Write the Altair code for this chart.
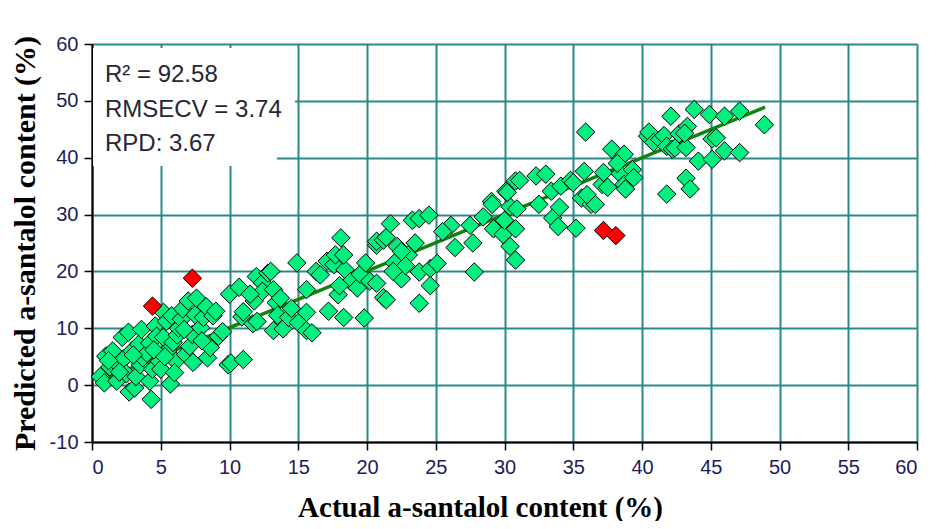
import altair as alt
import pandas as pd

# ---- data ----
green_x = [0.6, 0.9, 1.0, 1.3, 1.5, 1.8, 1.9, 2.2, 2.3, 2.5, 2.65, 2.7, 2.9, 3.1, 3.2, 3.4, 3.5, 3.6, 3.7, 4.0,
           4.2, 4.2, 4.3, 4.4, 4.6, 4.7, 4.9, 5.0, 5.2, 5.2, 5.4, 5.5, 5.7, 5.8, 5.9, 6.1, 6.2, 6.3, 6.5, 6.6,
           6.8, 7.0, 7.1, 7.3, 7.35, 7.5, 7.6, 7.9, 8.1, 8.3, 8.4, 8.6, 8.8, 9.0, 9.2, 9.5, 9.9, 6.0, 3.0, 2.0,
           1.2, 4.5, 5.3, 6.7, 8.0,
           10.0, 10.1, 10.7, 10.9, 11.0, 11.0, 11.7, 11.8, 11.95, 12.4, 12.4, 12.8, 13.0, 13.2, 13.2, 13.4, 13.5, 13.7, 13.9, 14.3,
           14.9, 15.0, 15.6, 15.6, 15.6, 16.3, 16.6, 17.1, 17.2, 17.6, 17.7, 17.9, 18.1, 18.3, 18.4, 18.3, 18.8, 19.3, 19.8, 19.5,
           18.0, 16.0, 14.5, 12.0, 11.5,
           20.2, 20.7, 20.7, 20.7, 21.2, 21.2, 21.4, 21.4, 21.7, 22.2, 22.5, 22.0, 23.0, 23.3, 23.5, 23.8, 23.8, 23.8, 24.5, 24.6,
           24.6, 25.1, 26.1, 25.5, 26.4, 27.5, 27.7, 27.8, 28.45, 29.05, 29.2, 29.9, 30.1, 30.4, 30.4, 30.8, 30.8, 30.8, 22.8, 19.9,
           21.9, 22.5,
           31.1, 30.2, 30.9, 29.1, 30.0, 32.3, 32.5, 33.0, 33.4, 33.5, 33.9, 34.0, 34.1, 34.8, 35.0, 35.2, 35.6, 35.8, 35.9, 36.3,
           36.6, 37.1, 37.2, 37.5, 37.8, 38.4, 38.7, 38.7, 38.8, 39.3, 39.4, 38.2, 36.0,
           40.4, 40.5, 40.85, 41.3, 41.6, 41.8, 41.8, 42.1, 42.2, 42.4, 42.7, 43.2, 43.2, 43.3, 43.5, 43.8, 43.1, 44.1, 44.9, 45.1,
           45.1, 46.0, 46.0, 47.1, 47.1, 48.9, 45.4]
green_y = [1.5, 0.4, 5.1, 3.2, 6.0, 0.7, 3.6, 8.4, 4.6, 2.0, 9.3, -1.2, 6.0, -0.5, 1.5, 7.2, 3.6, 9.8, 4.8, 5.6,
           0.7, 7.4, -2.5, 2.8, 10.4, 8.6, 4.2, 2.8, 12.8, 8.4, 11.2, 6.0, 0.2, 12.2, 7.5, 4.2, 8.8, 10.0, 11.6, 13.4,
           5.4, 14.8, 6.8, 8.9, 4.0, 12.4, 15.3, 10.1, 11.9, 13.8, 4.8, 6.6, 12.2, 13.0, 8.6, 9.4, 3.6, 2.2, 5.3, 2.3,
           4.3, 6.2, 5.0, 9.8, 7.8,
           16.0, 3.9, 17.2, 12.0, 4.5, 12.9, 10.8, 14.8, 19.1, 18.0, 16.5, 19.7, 20.0, 16.8, 9.6, 14.5, 12.3, 15.3, 9.9, 11.9,
           21.5, 11.0, 9.6, 12.8, 16.8, 20.0, 19.4, 21.8, 13.0, 21.2, 22.9, 15.9, 25.9, 11.9, 20.3, 22.9, 18.2, 17.1, 11.8, 19.5,
           17.5, 9.2, 13.5, 11.2, 16.0,
           18.3, 24.6, 25.3, 17.9, 25.5, 15.4, 26.0, 15.0, 28.4, 24.4, 18.7, 21.5, 22.9, 29.0, 25.0, 29.3, 19.9, 14.4, 29.9, 20.5,
           17.5, 21.4, 28.1, 27.0, 24.2, 28.1, 25.0, 19.9, 29.6, 32.3, 27.5, 26.5, 34.1, 31.4, 24.4, 35.9, 27.5, 22.0, 21.0, 21.5,
           20.0, 23.5,
           36.0, 33.9, 31.0, 31.8, 29.0, 36.8, 31.8, 37.1, 34.1, 29.4, 27.9, 31.3, 35.0, 36.0, 35.6, 27.6, 32.9, 37.6, 44.5, 31.8,
           31.8, 35.3, 37.4, 34.8, 41.5, 37.2, 40.6, 35.3, 34.5, 37.9, 36.5, 39.0, 33.5,
           43.8, 44.5, 42.7, 43.2, 43.9, 42.0, 33.6, 47.3, 41.5, 41.7, 44.2, 41.8, 36.4, 45.5, 34.5, 48.5, 44.3, 39.4, 47.6, 43.3,
           39.7, 47.3, 41.2, 48.2, 40.9, 45.8, 43.5]
red_x = [4.4, 7.3, 37.2, 38.1]
red_y = [13.9, 18.8, 27.2, 26.3]
fit_x = [0.85, 48.95]
fit_y = [1.0, 48.9]
x_ticks = list(range(0, 61, 5))
y_ticks = list(range(-10, 61, 10))
stats_lines = ["R\u00b2 = 92.58", "RMSECV = 3.74", "RPD: 3.67"]

green = pd.DataFrame({"x": green_x, "y": green_y})
red = pd.DataFrame({"x": red_x, "y": red_y})
fit = pd.DataFrame({"x": fit_x, "y": fit_y})

W, H = 825, 398
TEAL = "#2a8a8a"
LABEL = "#1c1c5a"

xscale = alt.Scale(domain=[0, 60], nice=False, zero=False)
yscale = alt.Scale(domain=[-10, 60], nice=False, zero=False)

xaxis = alt.Axis(values=x_ticks, title="Actual a-santalol content (%)", grid=True,
                 labelFont="Liberation Sans", labelFontSize=20, labelColor=LABEL, labelPadding=7,
                 tickColor="black", tickSize=8, tickWidth=1.5, domainColor="black", domainWidth=2,
                 gridColor=TEAL, gridWidth=2, gridOpacity=1,
                 titleFont="Liberation Serif", titleFontWeight="bold", titleFontSize=29,
                 titleColor="black", titleBaseline="alphabetic", titleY=74, titleX=388)
yaxis = alt.Axis(values=y_ticks, title="Predicted a-santalol content (%)", grid=True,
                 labelFont="Liberation Sans", labelFontSize=20, labelColor=LABEL, labelPadding=6,
                 labelExpr="'' + datum.value",
                 tickColor="black", tickSize=8, tickWidth=1.5, domainColor="black", domainWidth=2,
                 gridColor=TEAL, gridWidth=2, gridOpacity=1,
                 titleFont="Liberation Serif", titleFontWeight="bold", titleFontSize=30,
                 titleColor="black", titlePadding=9)

base_x = alt.X("x:Q", scale=xscale, axis=xaxis)
base_y = alt.Y("y:Q", scale=yscale, axis=yaxis)

# white background behind the statistics text
box1 = alt.Chart(fit).mark_rect(color="white").encode(
    x=alt.value(1), x2=alt.value(203), y=alt.value(4), y2=alt.value(86))
box2 = alt.Chart(fit).mark_rect(color="white").encode(
    x=alt.value(1), x2=alt.value(185), y=alt.value(86), y2=alt.value(122))

line = alt.Chart(fit).mark_line(color="#0f840f", strokeWidth=3.5).encode(x=base_x, y=base_y)

pts_g = alt.Chart(green).mark_point(shape="diamond", filled=True, size=340, fill="#00f080",
                                    stroke="black", strokeWidth=1, opacity=1).encode(x=base_x, y=base_y)
pts_r = alt.Chart(red).mark_point(shape="diamond", filled=True, size=340, fill="#ff0000",
                                  stroke="black", strokeWidth=1, opacity=1).encode(x=base_x, y=base_y)

text_layers = []
for i, s in enumerate(stats_lines):
    d = pd.DataFrame({"t": [s]})
    text_layers.append(
        alt.Chart(d).mark_text(align="left", baseline="middle", font="Liberation Sans",
                               fontSize=24, color="#262636").encode(
            x=alt.value(13), y=alt.value([31, 66, 100][i]), text="t:N"))

chart = alt.layer(box1, box2, line, pts_g, pts_r, *text_layers).properties(
    width=W, height=H,
    autosize=alt.AutoSizeParams(type="none"),
    padding={"left": 84, "top": 36, "right": 11, "bottom": 79},
).configure_view(stroke="black", strokeWidth=2).configure(background="white")

chart.save("out.html", embed_options={"renderer": "svg", "actions": False})
